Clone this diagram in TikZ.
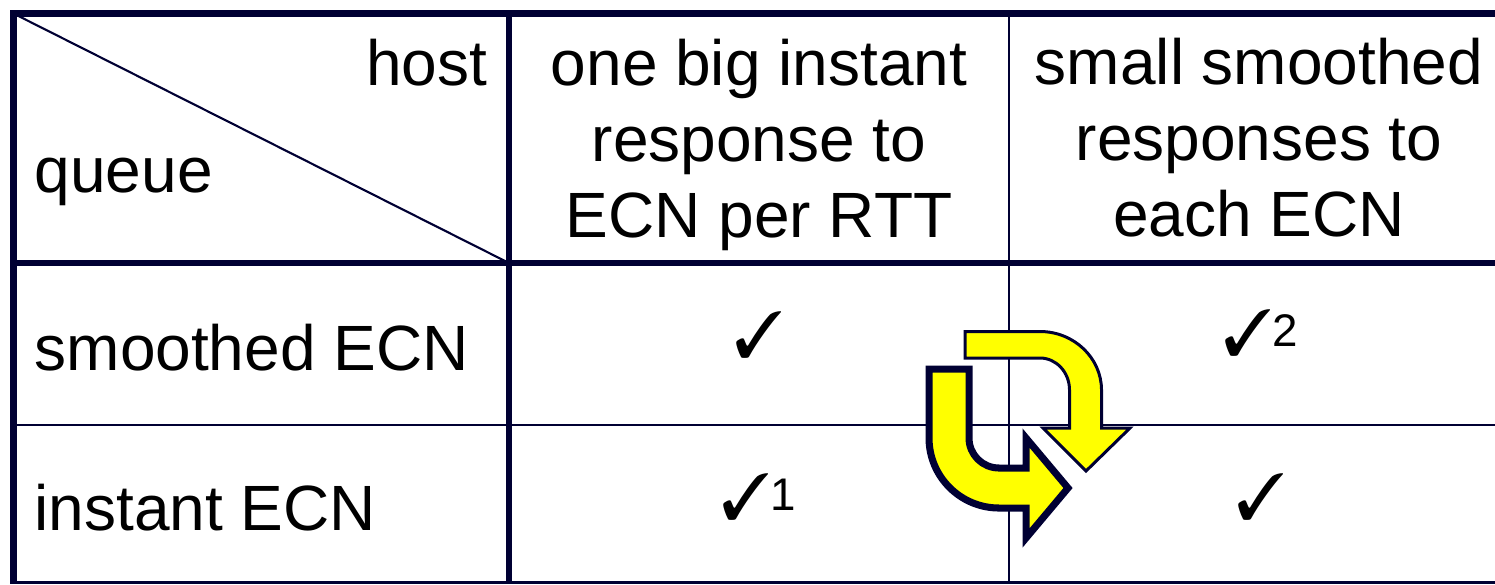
\documentclass[tikz,border=0pt]{standalone}
\usepackage{fontspec}
\setmainfont{Liberation Sans}
\usepackage{pifont}
\usepackage{xcolor}
\definecolor{navy}{HTML}{000033}
\definecolor{arrowyellow}{HTML}{FFFF00}

\begin{document}
\begin{tikzpicture}[x=0.01cm, y=-0.01cm,
    every node/.style={font=\fontsize{18.2}{21.6}\selectfont, inner sep=0pt},
    thickrule/.style={navy, line width=1.9pt},
    thinrule/.style={navy, line width=0.7pt},
    hdr/.style={align=center, anchor=center},
    lbl/.style={anchor=base west},
    chk/.style={anchor=base, font=\fontsize{18.5}{19}\selectfont},
    bigarrow/.style={draw=navy, fill=arrowyellow, line join=miter}]
    \useasboundingbox (0,0) rectangle (1495,584);

    % Grid
    \draw[thinrule] (13,425) -- (1495,425);
    \draw[thinrule] (13,582.5) -- (1495,582.5);
    \draw[thinrule] (1009,14) -- (1009,584);
    \draw[thinrule, line width=0.6pt] (13.5,13.5) -- (509,263);
    \draw[thickrule] (10,13.5) -- (1495,13.5);
    \draw[thickrule] (10,263) -- (1495,263);
    \draw[thickrule] (13.5,10) -- (13.5,584);
    \draw[thickrule] (509,10) -- (509,584);

    % Header
    \node[anchor=base east] (host) at (488,85) {host};
    \node[lbl] (queue) at (34,192) {queue};
    \node[hdr] (hdrbig) at (759,145) {one big instant\\response to\\ECN per RTT};
    \node[hdr] (hdrsmall) at (1259,138) {small smoothed\\responses to\\each ECN};

    % Rows
    \node[lbl] (rowsmooth) at (34,370) {smoothed ECN};
    \node[lbl] (rowinstant) at (34,530) {instant ECN};

    % Ticks
    \node[chk] (chkbigsmooth) at (759,357) {\ding{51}};
    \node[chk] (chkbiginstant) at (759,519) {\ding{51}\raisebox{2.4pt}{\fontsize{13}{14}\selectfont 1}};
    \node[chk] (chksmallsmooth) at (1261,355) {\ding{51}\raisebox{2.4pt}{\fontsize{13}{14}\selectfont 2}};
    \node[chk] (chksmallinstant) at (1261,519) {\ding{51}};

    % Swap arrows
    \draw[bigarrow, line width=0.85pt] (965,331.5) -- (1040,331.5)
        .. controls (1074,331.5) and (1101.5,358) .. (1101.5,390)
        -- (1101.5,428) -- (1130,428) -- (1086,471) -- (1043,428)
        -- (1069.5,428) -- (1069.5,390)
        .. controls (1069.5,372.3) and (1056.3,358) .. (1040,358)
        -- (965,358) -- cycle;
    \draw[bigarrow, line width=2pt] (929,369) -- (929,438)
        .. controls (929,476.6) and (960.4,508) .. (999,508)
        -- (1026,508) -- (1026,538) -- (1068,488) -- (1026,438)
        -- (1026,468) -- (999,468)
        .. controls (982.4,468) and (969,454.6) .. (969,438)
        -- (969,369) -- cycle;
\end{tikzpicture}
\end{document}
